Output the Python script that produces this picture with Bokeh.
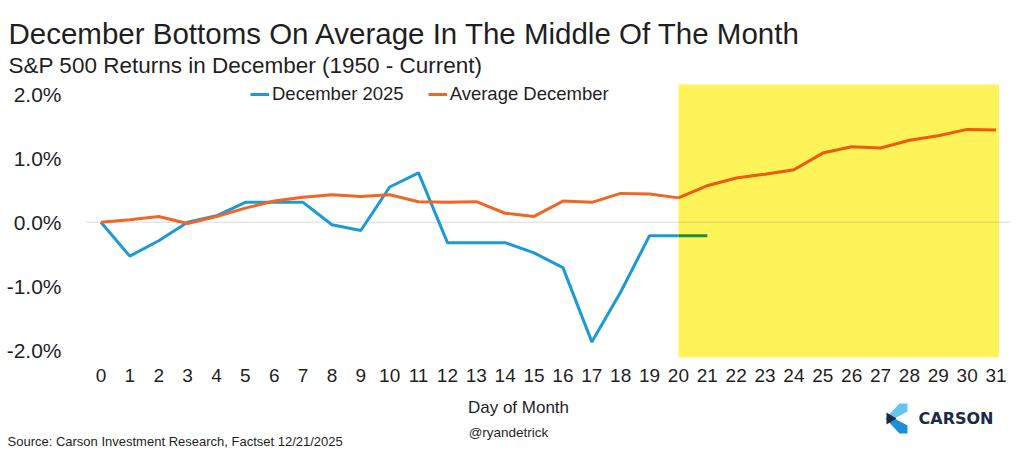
from bokeh.plotting import figure
from bokeh.models import (ColumnDataSource, BoxAnnotation, Span, Label, Legend, LegendItem,
                          FixedTicker, PrintfTickFormatter, Range1d, PolyAnnotation)
from bokeh.embed import file_html
from bokeh.resources import INLINE

# ---------------- data ----------------
days = list(range(32))
dec2025 = [0.00, -0.53, -0.29, 0.00, 0.10, 0.31, 0.31, 0.31, -0.04, -0.13, 0.55, 0.77,
           -0.32, -0.32, -0.32, -0.48, -0.71, -1.87, -1.09, -0.21, -0.21, -0.21]
avg_dec = [0.00, 0.04, 0.09, -0.02, 0.09, 0.22, 0.33, 0.39, 0.43, 0.40, 0.43, 0.32,
           0.31, 0.32, 0.14, 0.09, 0.33, 0.31, 0.45, 0.44, 0.38, 0.57, 0.69, 0.75,
           0.82, 1.08, 1.18, 1.16, 1.28, 1.35, 1.45, 1.44]
y_ticks = [-2, -1, 0, 1, 2]
highlight_start, highlight_end = 20, 31.1
highlight_top, highlight_bottom = 2.152, -2.114
series_names = ["December 2025", "Average December"]

title_text = "December Bottoms On Average In The Middle Of The Month"
subtitle_text = "S&P 500 Returns in December (1950 - Current)"
xlabel_text = "Day of Month"
source_text = "Source: Carson Investment Research, Factset 12/21/2025"
handle_text = "@ryandetrick"
brand_text = "CARSON"

FONT = "Liberation Sans"
BLUE = "#1B9AD6"
GREEN = "#1E8C3E"
ORANGE = "#F26522"
ORANGE_HL = "#F05A0C"
YELLOW = "#FFF35A"
TXT = "#1F1F1F"

W = 1024
TOP_H = 80          # title band
MAIN_H = 315        # plot frame (277) + x tick labels (38)
BOT_H = 58          # footer band
FL, FR, FB = 86, 14, 38


def band(height, y0):
    f = figure(width=W, height=height, output_backend="svg", toolbar_location=None, title=None,
               x_range=Range1d(0, W), y_range=Range1d(y0 + height, y0),
               x_axis_location=None, y_axis_location=None, min_border=0)
    f.outline_line_color = None
    f.xgrid.visible = False
    f.ygrid.visible = False
    f.background_fill_color = "white"
    f.border_fill_color = "white"
    return f


def lab(f, text, x, y, size, align="left", baseline="alphabetic", color=TXT, font=FONT,
        style="normal"):
    f.add_layout(Label(x=x, y=y, text=text, text_font=font, text_font_size=size,
                       text_color=color, text_align=align, text_baseline=baseline,
                       text_font_style=style))


# ---------------- title band ----------------
top = band(TOP_H, 0)
lab(top, title_text, 8, 33, "29.5px")
lab(top, subtitle_text, 8, 65, "22.5px")

# ---------------- main plot ----------------
p = figure(width=W, height=MAIN_H, output_backend="svg", toolbar_location=None, title=None,
           x_range=Range1d(-0.5, 31.5), y_range=Range1d(-2.114, 2.214),
           min_border_left=FL, min_border_right=FR, min_border_top=0, min_border_bottom=FB)
p.outline_line_color = None
p.background_fill_color = "white"
p.border_fill_color = "white"
p.xgrid.visible = False
p.ygrid.visible = False

p.add_layout(BoxAnnotation(left=highlight_start, right=highlight_end,
                           top=highlight_top, bottom=highlight_bottom, fill_color=YELLOW,
                           fill_alpha=1.0, line_color=None, level="underlay"))
p.add_layout(Span(location=0, dimension="width", line_color="black", line_alpha=0.15,
                  line_width=1, level="underlay"))

n_hl = days.index(highlight_start)
s_blue = ColumnDataSource(dict(x=days[:n_hl + 1], y=dec2025[:n_hl + 1]))
s_green = ColumnDataSource(dict(x=days[n_hl:len(dec2025)], y=dec2025[n_hl:]))
s_or1 = ColumnDataSource(dict(x=days[:n_hl + 1], y=avg_dec[:n_hl + 1]))
s_or2 = ColumnDataSource(dict(x=days[n_hl:], y=avg_dec[n_hl:]))

r_blue = p.line("x", "y", source=s_blue, line_color=BLUE, line_width=3)
p.line("x", "y", source=s_green, line_color=GREEN, line_width=3)
r_or = p.line("x", "y", source=s_or1, line_color=ORANGE, line_width=3)
p.line("x", "y", source=s_or2, line_color=ORANGE_HL, line_width=3)

xa = p.xaxis[0]
xa.ticker = FixedTicker(ticks=days)
xa.axis_line_color = None
xa.major_tick_line_color = None
xa.minor_tick_line_color = None
xa.major_label_text_font = FONT
xa.major_label_text_font_size = "19px"
xa.major_label_text_color = TXT
xa.major_label_standoff = 5

ya = p.yaxis[0]
ya.ticker = FixedTicker(ticks=y_ticks)
ya.formatter = PrintfTickFormatter(format="%.1f%%")
ya.axis_line_color = None
ya.major_tick_line_color = None
ya.minor_tick_line_color = None
ya.major_label_text_font = FONT
ya.major_label_text_font_size = "21px"
ya.major_label_text_color = TXT
ya.major_label_standoff = 19

leg = Legend(items=[LegendItem(label=series_names[0], renderers=[r_blue]),
                    LegendItem(label=series_names[1], renderers=[r_or])],
             orientation="horizontal", location=(164, 252),
             glyph_width=19, glyph_height=22, label_height=22, label_standoff=3, spacing=24,
             padding=0, margin=0, border_line_color=None, background_fill_alpha=0,
             label_text_font=FONT, label_text_font_size="18.5px", label_text_color=TXT)
p.add_layout(leg, "center")

# ---------------- footer band ----------------
bot = band(BOT_H, TOP_H + MAIN_H)
lab(bot, xlabel_text, 518, 407, "17px", align="center")
lab(bot, handle_text, 508, 432, "13.5px", align="center")
lab(bot, source_text, 7, 441, "13px")
lab(bot, brand_text, 918, 418, "16px", baseline="middle", color="#1B2A47", font="DejaVu Sans",
    style="bold")


def poly(f, pts, color):
    f.add_layout(PolyAnnotation(xs=[a for a, b in pts], ys=[b for a, b in pts],
                                fill_color=color, fill_alpha=1, line_color=None))


poly(bot, [(899, 403), (907, 403), (907, 411), (894, 418), (885, 418)], "#66C4F0")
poly(bot, [(885, 418), (894, 418), (907, 425), (907, 433), (899, 433)], "#1C8FD8")
poly(bot, [(886, 412), (896, 418), (886, 424)], "#1B2A47")

open("out.html", "w").write(file_html([top, p, bot], INLINE))
